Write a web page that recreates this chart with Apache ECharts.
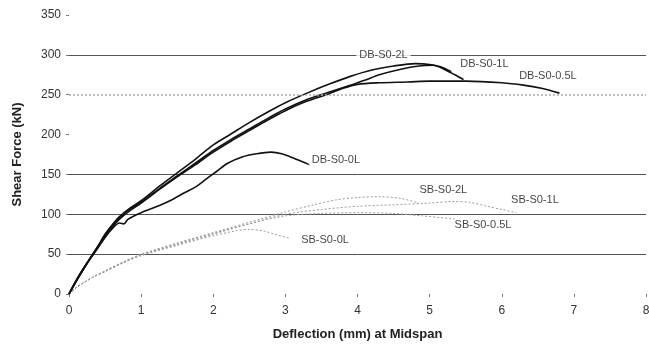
<!DOCTYPE html>
<html>
<head>
    <meta charset="utf-8">
    <title>Shear force vs deflection</title>
    <script src="https://cdn.jsdelivr.net/npm/echarts@6/dist/echarts.min.js"></script>
</head>
<body style="margin:0;background:#fff">
    <div id="main" style="width: 649px;height:345px;"></div>
    <script type="text/javascript">
        // curves: [deflection mm, shear kN]
        var db2L = [[0,0],[0.1,17],[0.2,32],[0.3,46],[0.4,60],[0.5,75],[0.6,87],[0.7,97],[0.85,108],[1.0,117],[1.25,135],[1.5,152],[1.75,169],[2.0,187],[2.25,201],[2.5,215],[2.75,228],[3.0,240],[3.3,252],[3.6,263],[3.9,273],[4.2,281],[4.5,286],[4.8,289],[5.0,288],[5.15,285],[5.3,279]];
        var db1L = [[0,0],[0.1,17],[0.2,32],[0.3,46],[0.4,59],[0.5,74],[0.6,86],[0.7,96],[0.85,107],[1.0,115],[1.25,132],[1.5,148],[1.75,164],[2.0,180],[2.25,194],[2.5,207],[2.75,220],[3.0,232],[3.3,244],[3.6,253],[3.9,262],[4.1,268],[4.3,275],[4.6,282],[4.85,286],[5.05,287],[5.2,282],[5.35,275],[5.47,269]];
        var db05L = [[0,0],[0.1,16],[0.2,31],[0.3,45],[0.4,58],[0.5,72],[0.6,84],[0.7,94],[0.85,105],[1.0,114],[1.25,131],[1.5,147],[1.75,162],[2.0,178],[2.25,192],[2.5,205],[2.75,218],[3.0,230],[3.3,242],[3.6,251],[3.8,258],[4.0,263],[4.3,265],[4.7,266],[5.0,267],[5.5,267],[6.0,265],[6.3,262],[6.55,258],[6.8,252]];
        var db0L = [[0,0],[0.1,16],[0.2,31],[0.3,45],[0.4,58],[0.5,71],[0.6,82],[0.7,89],[0.76,88],[0.82,94],[1.0,102],[1.2,109],[1.4,117],[1.6,127],[1.75,134],[1.9,144],[2.05,154],[2.2,164],[2.4,172],[2.6,176],[2.8,178],[2.95,176],[3.1,171],[3.34,162]];
        var sb2L = [[0,0],[0.1,8],[0.2,14],[0.35,22],[0.5,29],[0.75,40],[1.0,50],[1.5,64],[2.0,77],[2.5,90],[3.0,103],[3.4,112],[3.7,118],[4.0,121],[4.3,122],[4.6,120],[4.85,114]];
        var sb1L = [[0,0],[0.1,8],[0.2,14],[0.35,22],[0.5,28],[0.75,39],[1.0,49],[1.5,62],[2.0,75],[2.5,88],[3.0,100],[3.5,106],[4.0,110],[4.5,112],[5.0,114],[5.3,116],[5.55,115],[5.8,110],[6.0,106],[6.2,102]];
        var sb05L = [[0,0],[0.1,8],[0.2,14],[0.35,22],[0.5,29],[0.75,40],[1.0,49],[1.5,63],[2.0,76],[2.5,88],[3.0,98],[3.5,101],[4.0,102],[4.5,101],[4.9,98],[5.35,94]];
        var sb0L = [[0,0],[0.1,8],[0.2,14],[0.35,22],[0.5,28],[0.75,39],[1.0,48],[1.5,61],[2.0,73],[2.3,79],[2.5,81],[2.7,79],[2.85,75],[3.05,70]];

        // curve labels placed in data space
        var labelNames = ['DB-S0-2L','DB-S0-1L','DB-S0-0.5L','DB-S0-0L','SB-S0-2L','SB-S0-1L','SB-S0-0.5L','SB-S0-0L'];
        var labelX = [4.36, 5.76, 6.64, 3.70, 5.19, 6.46, 5.74, 3.55];
        var labelY = [300, 289, 274, 168, 130, 118, 86, 68];

        var font = '"Liberation Sans", Arial, sans-serif';
        var myChart = echarts.init(document.getElementById('main'));

        function dbLine(name, data) {
            return {
                name: name, type: 'line', data: data, symbol: 'none', smooth: 0.3,
                lineStyle: { color: '#111', width: 1.6 }, z: 3
            };
        }
        function sbLine(name, data) {
            return {
                name: name, type: 'line', data: data, symbol: 'none', smooth: 0.3,
                lineStyle: { color: '#999', width: 1, type: [2, 2] }, z: 3
            };
        }

        var labelData = labelNames.map(function (n, i) {
            return { name: n, value: [labelX[i], labelY[i]] };
        });

        var option = {
            animation: false,
            backgroundColor: '#fff',
            grid: { left: 69, right: 3, top: 15, bottom: 51, outerBoundsMode: 'none', containLabel: false },
            xAxis: {
                type: 'value', min: 0, max: 8, interval: 1,
                name: 'Deflection (mm) at Midspan', nameLocation: 'middle', nameGap: 34,
                nameTextStyle: { fontFamily: font, fontSize: 13, fontWeight: 'bold', color: '#222' },
                axisLine: { show: false },
                axisTick: { show: true, length: 3, lineStyle: { color: '#777' } },
                axisLabel: { fontFamily: font, fontSize: 12, color: '#333', margin: 11 },
                splitLine: { show: false }
            },
            yAxis: {
                type: 'value', min: 0, max: 350, interval: 50,
                name: 'Shear Force (kN)', nameLocation: 'middle', nameGap: 45,
                nameTextStyle: { fontFamily: font, fontSize: 13, fontWeight: 'bold', color: '#222' },
                axisLine: { show: false },
                axisTick: { show: true, length: 3, lineStyle: { color: '#777' } },
                axisLabel: { fontFamily: font, fontSize: 12, color: '#333', margin: 8 },
                splitLine: {
                    show: true,
                    lineStyle: {
                        width: 1,
                        color: ['transparent', '#555', '#555', '#555', 'transparent', 'transparent', '#555', 'transparent']
                    }
                }
            },
            series: [
                sbLine('SB-S0-2L', sb2L),
                sbLine('SB-S0-1L', sb1L),
                sbLine('SB-S0-0.5L', sb05L),
                sbLine('SB-S0-0L', sb0L),
                dbLine('DB-S0-2L', db2L),
                dbLine('DB-S0-1L', db1L),
                dbLine('DB-S0-0.5L', db05L),
                dbLine('DB-S0-0L', db0L),
                {
                    // dotted 250 grid line
                    type: 'line', data: [], silent: true,
                    markLine: {
                        symbol: 'none', silent: true, label: { show: false },
                        lineStyle: { color: '#aaa', width: 1.5, type: [2, 2] },
                        data: [{ yAxis: 250 }]
                    }
                },
                {
                    name: 'labels', type: 'scatter', data: labelData, symbolSize: 0, z: 5,
                    label: {
                        show: true, position: 'inside', formatter: '{b}',
                        fontFamily: font, fontSize: 11, color: '#111',
                        backgroundColor: '#fff', padding: [0, 3]
                    }
                }
            ]
        };
        myChart.setOption(option);
    </script>
</body>
</html>
